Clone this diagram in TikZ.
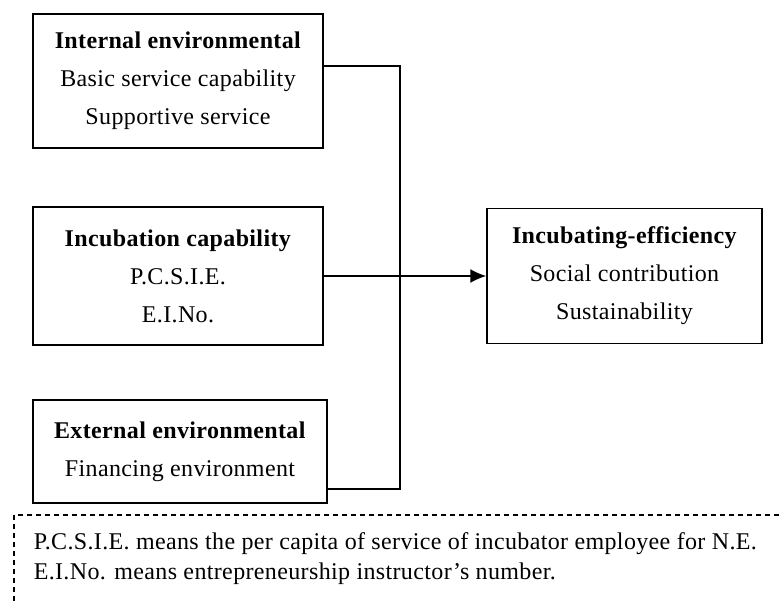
\documentclass[tikz,border=0pt]{standalone}
\usepackage{fontspec}
\setmainfont{Liberation Serif}[LetterSpace=1.5]
\usetikzlibrary{arrows.meta}
\newcommand{\ttl}[1]{\textbf{#1}}

\begin{document}
\begin{tikzpicture}[x=1pt,y=-1pt,line width=1.5pt,
    every node/.style={font=\fontsize{24}{38}\selectfont},
    factor/.style={draw,align=center,inner sep=0pt}]
     \clip (0,0) rectangle (779,600);
     \node[factor,minimum width=290pt,minimum height=134pt] (ie) at (178,81)
       {\ttl{Internal environmental}\\Basic service capability\\Supportive service};
     \node[factor,minimum width=290pt,minimum height=138pt] (ic) at (178,276)
       {\ttl{Incubation capability}\\P.C.S.I.E.\\E.I.No.};
     \node[factor,minimum width=294pt,minimum height=103pt] (ee) at (180,451.5)
       {\ttl{External environmental}\\Financing environment};
     \node[factor,minimum width=275pt,minimum height=135pt] (eff) at (624.5,276)
       {\ttl{Incubating-efficiency}\\Social contribution\\Sustainability};
     \coordinate (bend) at (400,489);
     \draw ([yshift=15pt]ie.east) -| (bend) -- ([yshift=-37.5pt]ee.east);
     \draw[-{Latex[length=16pt,width=14pt]}] (ic.east) -- (eff.west);
     \draw[dash pattern=on 5pt off 4pt,line width=1.2pt] (14,515) rectangle (800,620);
     \node[anchor=north west,align=left,inner sep=0pt,
       font=\fontsize{24}{30}\selectfont] (note) at (33,532)
       {P.C.S.I.E. means the per capita of service of incubator employee for N.E.\\
        E.I.No. means entrepreneurship instructor's number.};
\end{tikzpicture}
\end{document}
